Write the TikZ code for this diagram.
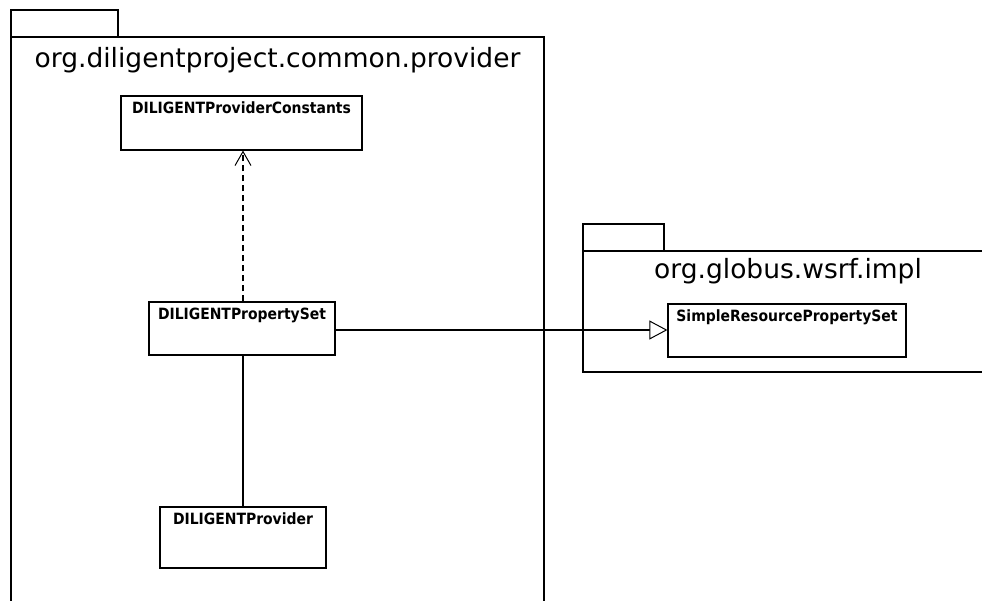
\documentclass[tikz,border=0pt]{standalone}
\usepackage{fontspec}
\setmainfont{DejaVu Sans}
\newfontfamily\clsfont{DejaVu Sans Condensed}
\usetikzlibrary{arrows.meta}
\begin{document}
\begin{tikzpicture}[x=1pt,y=-1pt,line width=1.2pt,
  pkg/.style={draw,line width=1.1pt},
  cls/.style={draw,line width=1.2pt,inner sep=0pt},
  lbl/.style={font=\clsfont\fontsize{15.5}{17}\selectfont\bfseries,inner sep=0pt,anchor=north},
  ptitle/.style={font=\fontsize{26.5}{30}\selectfont,inner sep=0pt,anchor=base},
  dep/.style={dashed,dash pattern=on 6pt off 4pt,-{Straight Barb[length=14pt,width=16pt,line width=1pt]}},
  gen/.style={-{Triangle[open,length=18pt,width=19pt,fill=white,line width=1pt]}}]
\useasboundingbox (0,0) rectangle (982,601);
% package 1
\draw[pkg] (11,10) rectangle (118,37);
\draw[pkg] (11,620) -- (11,37) -- (544,37) -- (544,620);
\node[ptitle] (t1) at (277.5,68) {org.diligentproject.common.provider};
% package 2
\draw[pkg] (583,224) rectangle (664,251);
\draw[pkg] (1000,251) -- (583,251) -- (583,372) -- (1000,372);
\node[ptitle] (t2) at (788,279) {org.globus.wsrf.impl};
% classes
\node[cls,minimum width=241pt,minimum height=54pt] (pc) at (241.5,123) {};
\node[lbl] at ([yshift=-6pt]pc.north) {DILIGENTProviderConstants};
\node[cls,minimum width=186pt,minimum height=53pt] (ps) at (242,328.5) {};
\node[lbl] at ([yshift=-6pt]ps.north) {DILIGENTPropertySet};
\node[cls,minimum width=166pt,minimum height=61pt] (pv) at (243,537.5) {};
\node[lbl] at ([yshift=-6pt]pv.north) {DILIGENTProvider};
\node[cls,minimum width=238pt,minimum height=53pt] (sr) at (787,330.5) {};
\node[lbl] at ([yshift=-6pt]sr.north) {SimpleResourcePropertySet};
% connectors
\coordinate (dx) at (243,0);
\draw[dep] (ps.north -| dx) -- (pc.south -| dx);
\draw (ps.south -| dx) -- (pv.north -| dx);
\draw[gen] (ps.east |- 0,330) -- (sr.west |- 0,330);
\end{tikzpicture}
\end{document}
